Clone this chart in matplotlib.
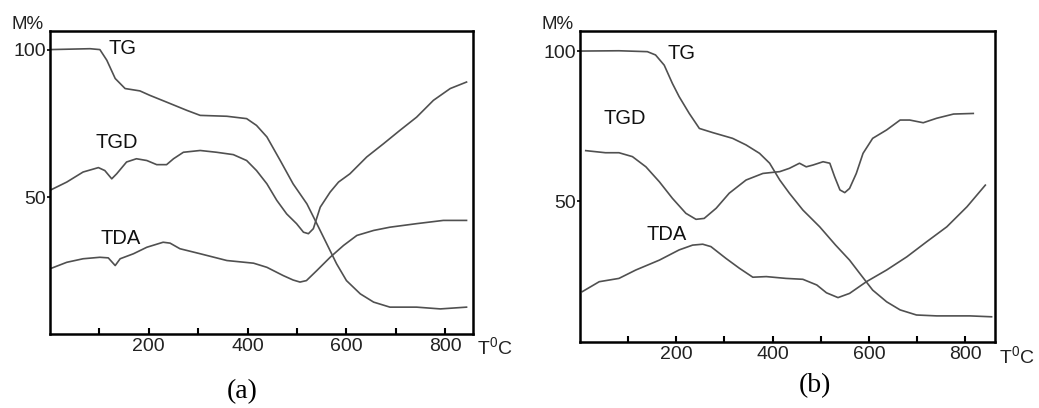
import matplotlib
matplotlib.use("Agg")
import matplotlib.pyplot as plt

plt.rcParams['font.family'] = ['Liberation Sans', 'DejaVu Sans']
plt.rcParams['mathtext.default'] = 'regular'

# panel (a) curves: temperature (C), mass (%)
tg_a_x = [0, 81, 101, 115, 132, 152, 182, 202, 236, 277, 304, 358, 398, 418, 439, 466, 492,
          520, 540, 560, 580, 600, 628, 655, 688, 742, 790, 843]
tg_a_y = [100, 100.3, 100, 96.4, 90.2, 86.8, 86, 84.5, 82.2, 79.4, 77.7, 77.4, 76.6, 74.3, 70.4,
          62.4, 54.5, 47.7, 41, 34.2, 27.4, 21.7, 17.2, 14.4, 12.7, 12.7, 12.1, 12.7]
tgd_a_x = [0, 34, 67, 98, 111, 125, 135, 155, 175, 196, 216, 236, 250, 270, 304, 337, 371, 398,
           418, 439, 459, 479, 499, 513, 523, 533, 547, 567, 584, 607, 641, 675, 708, 742, 776,
           810, 843]
tgd_a_y = [52.3, 55.1, 58.5, 60, 59, 56.2, 57.9, 61.9, 63, 62.4, 61, 61, 63, 65.2, 65.8, 65.2,
           64.4, 62.4, 59, 54.5, 48.9, 44.3, 41, 38.1, 37.6, 39.3, 46.6, 51.7, 55.1, 57.9, 63.6,
           68.1, 72.6, 77.1, 82.8, 86.8, 89]
tda_a_x = [0, 34, 67, 101, 118, 132, 142, 169, 196, 229, 243, 263, 304, 358, 412, 439, 472, 492,
           506, 519, 540, 567, 594, 621, 655, 688, 742, 796, 843]
tda_a_y = [25.7, 27.9, 29.1, 29.6, 29.4, 26.8, 29.1, 30.8, 33, 34.7, 34.4, 32.5, 30.8, 28.5, 27.6,
           26.2, 23.4, 21.9, 21.2, 21.7, 25.1, 29.6, 33.6, 37, 38.7, 39.8, 41, 42.1, 42.1]

# panel (b) curves
tg_b_x = [0, 81, 140, 157, 175, 192, 206, 227, 248, 276, 317, 345, 373, 394, 415, 435, 463, 498,
          531, 560, 581, 608, 637, 665, 699, 741, 810, 855]
tg_b_y = [100, 100.1, 99.8, 98.7, 95.3, 89.2, 84.8, 79.2, 74.2, 72.8, 70.9, 68.7, 65.9, 62.6, 57,
          52.6, 47, 41.4, 35.3, 30.3, 25.9, 20.3, 16.4, 13.7, 12, 11.7, 11.7, 11.4]
tgd_b_x = [12, 53, 81, 109, 137, 165, 192, 220, 241, 258, 283, 310, 345, 380, 415, 435, 456, 470,
           484, 505, 519, 529, 540, 550, 560, 574, 588, 608, 637, 665, 685, 713, 741, 776, 817]
tgd_b_y = [66.8, 66.1, 66.1, 64.8, 61.4, 56.4, 50.9, 45.9, 43.9, 44.2, 47.6, 52.6, 57, 59.2, 59.8,
           60.9, 62.6, 61.4, 62, 63.1, 62.6, 58.1, 53.7, 52.8, 54.2, 59.2, 65.9, 70.9, 73.7, 77,
           77, 76.1, 77.6, 79, 79.2]
tda_b_x = [5, 40, 81, 116, 165, 206, 234, 255, 272, 303, 331, 359, 387, 428, 463, 492, 512, 536,
           560, 595, 637, 679, 720, 762, 804, 842]
tda_b_y = [19.8, 23.1, 24.2, 27, 30.3, 33.7, 35.3, 35.6, 34.8, 30.9, 27.6, 24.6, 24.8, 24.2, 23.9,
           22, 19.4, 17.8, 19.2, 23.1, 27, 31.4, 36.4, 41.4, 48.1, 55.3]

curve_names = ['TG', 'TGD', 'TDA']
label_pos_a = [(146, 100.5), (135, 68.6), (143, 35.8)]
label_pos_b = [(210, 99.3), (94, 77.6), (181, 38.7)]

fig = plt.figure(figsize=(10.39, 4.08), dpi=100)
ax1 = fig.add_axes([0.0481, 0.1814, 0.4071, 0.7426])
ax2 = fig.add_axes([0.5582, 0.1618, 0.3994, 0.7623])

panels = [
    (ax1, [(tg_a_x, tg_a_y), (tgd_a_x, tgd_a_y), (tda_a_x, tda_a_y)], label_pos_a, (0, 856), (3.6, 106.3)),
    (ax2, [(tg_b_x, tg_b_y), (tgd_b_x, tgd_b_y), (tda_b_x, tda_b_y)], label_pos_b, (0, 862), (3.0, 106.7)),
]

for ax, curves, lpos, xl, yl in panels:
    for (x, y), name, (lx, ly) in zip(curves, curve_names, lpos):
        ax.plot(x, y, color='#505050', lw=1.2, solid_joinstyle='round')
        ax.text(lx, ly, name, fontsize=14.5, ha='center', va='center', color='#111111')
    ax.set_xlim(*xl)
    ax.set_ylim(*yl)
    ax.set_xticks(range(100, 900, 100))
    ax.set_xticklabels(['', '200', '', '400', '', '600', '', '800'])
    ax.set_yticks([50, 100])
    ax.tick_params(axis='x', direction='in', length=4, width=1.5, labelsize=14, pad=3,
                   labelcolor='#222222')
    ax.tick_params(axis='y', direction='out', length=2, width=1.2, labelsize=14, pad=1,
                   labelcolor='#222222')
    for s in ax.spines.values():
        s.set_linewidth(1.8)
    ax.text(-0.015, 1.02, 'M%', transform=ax.transAxes, fontsize=13.5, ha='right', va='center',
            color='#222222')
    ax.text(1.01, -0.045, r'T$^{0}$C', transform=ax.transAxes, fontsize=14, ha='left',
            va='center', color='#222222')

fig.text(242 / 1039, 1 - 392 / 408, '(a)', fontsize=20, ha='center', va='center',
         family='Liberation Serif')
fig.text(815 / 1039, 1 - 386 / 408, '(b)', fontsize=20, ha='center', va='center',
         family='Liberation Serif')

fig.savefig('out.png', dpi=100, facecolor='white')
